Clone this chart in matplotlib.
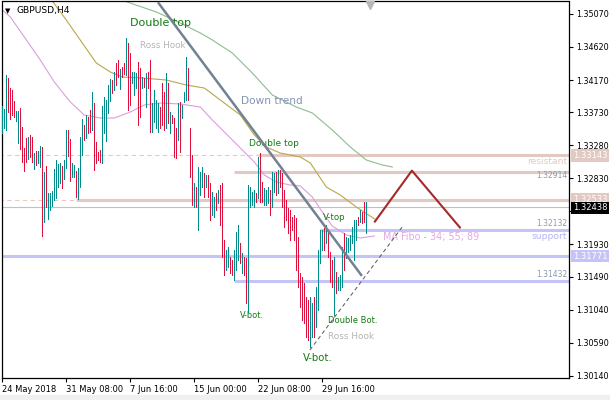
import matplotlib
matplotlib.use("Agg")
import matplotlib.pyplot as plt
from matplotlib.patches import Rectangle
from matplotlib.transforms import blended_transform_factory

# GBPUSD H4 bars: high / low per bar, U = up bar, D = down bar
highs = [
    1.33816, 1.33775, 1.34239, 1.34198, 1.34061, 1.34034, 1.33884, 1.33748, 1.33748, 1.33789,
    1.33530, 1.33244, 1.33380, 1.33394, 1.33421, 1.33394, 1.33175, 1.33203, 1.33203, 1.33271,
    1.33257, 1.32917, 1.32998, 1.32630, 1.32630, 1.32658, 1.32957, 1.33080, 1.33026, 1.33039,
    1.32998, 1.33080, 1.33489, 1.33489, 1.33366, 1.33039, 1.33012, 1.32930, 1.32971, 1.33394,
    1.33639, 1.33557, 1.33693, 1.33666, 1.33761, 1.34007, 1.33857, 1.33325, 1.33189, 1.33216,
    1.33816, 1.33939, 1.33898, 1.34102, 1.34184, 1.34170, 1.34279, 1.34402, 1.34443, 1.34320,
    1.34348, 1.34402, 1.34743, 1.34675, 1.34538, 1.34279, 1.34279, 1.34266, 1.34416, 1.34334,
    1.34211, 1.34198, 1.34266, 1.34279, 1.34443, 1.33857, 1.34034, 1.33898, 1.33857, 1.33802,
    1.34130, 1.34007, 1.34266, 1.34130, 1.33734, 1.33693, 1.33652, 1.33516, 1.33857, 1.33871,
    1.33830, 1.34007, 1.34484, 1.34334, 1.33516, 1.33148, 1.32767, 1.32712, 1.32985, 1.32917,
    1.32985, 1.32903, 1.32876, 1.32876, 1.32767, 1.32644, 1.32576, 1.32630, 1.32671, 1.32739,
    1.32767, 1.31990, 1.31853, 1.31894, 1.31758, 1.31717, 1.31853, 1.32099, 1.32194, 1.31949,
    1.31812, 1.31758, 1.31744, 1.32739, 1.32712, 1.32644, 1.32671, 1.32630, 1.33121, 1.33175,
    1.32780, 1.32698, 1.32671, 1.32712, 1.32671, 1.32917, 1.32903, 1.32917, 1.32944, 1.32944,
    1.32903, 1.32671, 1.32535, 1.32426, 1.32399, 1.32303, 1.32330, 1.32290, 1.32031, 1.31540,
    1.31485, 1.31404, 1.31213, 1.31172, 1.31213, 1.31131, 1.31213, 1.31349, 1.31853, 1.32126,
    1.32126, 1.32153, 1.32194, 1.32126, 1.31826, 1.31717, 1.31758, 1.31554, 1.31485, 1.31513,
    1.31894, 1.32085, 1.32031, 1.32017, 1.32058, 1.32167, 1.32262, 1.32262, 1.32303, 1.32399,
    1.32371, 1.32508, 1.32508,
]
lows = [
    1.33448, 1.33516, 1.33489, 1.33734, 1.33639, 1.33693, 1.33666, 1.33612, 1.33312, 1.33230,
    1.33053, 1.32930, 1.33053, 1.33094, 1.33121, 1.33053, 1.32957, 1.33012, 1.33039, 1.32985,
    1.32044, 1.32235, 1.32439, 1.32276, 1.32399, 1.32453, 1.32535, 1.32562, 1.32712, 1.32767,
    1.32698, 1.32821, 1.32971, 1.33135, 1.32794, 1.32848, 1.32848, 1.32576, 1.32548, 1.32712,
    1.33148, 1.33353, 1.33380, 1.33448, 1.33462, 1.33489, 1.32944, 1.33039, 1.33080, 1.33053,
    1.33039, 1.33448, 1.33339, 1.33721, 1.33884, 1.33993, 1.34034, 1.34102, 1.34211, 1.34048,
    1.34211, 1.34252, 1.34239, 1.33761, 1.33830, 1.34130, 1.33966, 1.34061, 1.33557, 1.33666,
    1.34061, 1.34075, 1.33802, 1.34061, 1.33462, 1.33462, 1.33598, 1.33516, 1.33462, 1.33516,
    1.33557, 1.33489, 1.33516, 1.33584, 1.33448, 1.33584, 1.33121, 1.33107, 1.33353, 1.33189,
    1.33652, 1.33871, 1.33898, 1.33898, 1.32848, 1.32467, 1.32439, 1.32439, 1.32126, 1.32603,
    1.32712, 1.32576, 1.32712, 1.32576, 1.32262, 1.32330, 1.32303, 1.32399, 1.32494, 1.32194,
    1.31758, 1.31513, 1.31581, 1.31622, 1.31540, 1.31513, 1.31444, 1.31581, 1.31717, 1.31676,
    1.31540, 1.31513, 1.31131, 1.31009, 1.32439, 1.32467, 1.32439, 1.32508, 1.32562, 1.32508,
    1.32508, 1.32467, 1.32467, 1.32494, 1.32330, 1.32439, 1.32644, 1.32603, 1.32630, 1.32712,
    1.32439, 1.32167, 1.32262, 1.32085, 1.31990, 1.32126, 1.31990, 1.31581, 1.31349, 1.31077,
    1.30899, 1.30858, 1.30667, 1.30626, 1.30531, 1.30667, 1.30667, 1.30804, 1.31036, 1.31676,
    1.31853, 1.31853, 1.31949, 1.31758, 1.31417, 1.31349, 1.30967, 1.31267, 1.31308, 1.31308,
    1.31349, 1.31581, 1.31744, 1.31826, 1.31853, 1.31949, 1.31717, 1.31990, 1.32194, 1.32235,
    1.32221, 1.32235, 1.32085,
]
dirs = ("UUUDDDDUUD" "DDDUDDUDUU" "DUDUUUUUUU" "DUUDDUUDUU" "UDUDDUDDDD"
        "UUUUUDUDDU" "DDUDDUUUDD" "UDUDDUUUUD" "DDUDUDDDUD" "UUUDDDUDUU"
        "UDUDDUUDUD" "DDUUDDUUUD" "UDDUUUUDUD" "DUUUDUUDUD" "DDDDDDDDDD"
        "DDDDUUDUUU" "UDUDDDUDUU" "UDUUUUUUDU" "DDU")

# moving averages (MA Fibo 34 / 55 / 89), sampled along the drawn curves
ma34_x = [0, 4, 11, 19, 26, 34, 41, 49, 56, 64, 71, 79, 89, 99, 105, 111, 119, 126,
          131, 137, 144, 149, 155, 160, 165, 172, 179, 186]
ma34_y = [1.35125, 1.35029, 1.34757, 1.34443, 1.34143, 1.33871, 1.33693, 1.33652, 1.33652,
          1.33734, 1.33830, 1.33857, 1.33843, 1.33802, 1.33625, 1.33462, 1.33243, 1.33053,
          1.32876, 1.32780, 1.32739, 1.32726, 1.32576, 1.32371, 1.32180, 1.32058, 1.32017,
          1.32044]
ma55_x = [25, 32, 40, 47, 54, 60, 70, 82, 92, 101, 109, 119, 126, 132, 139, 149, 154,
          162, 169, 177, 187]
ma55_y = [1.35247, 1.34988, 1.34675, 1.34402, 1.34279, 1.34211, 1.34198, 1.34170, 1.34102,
          1.34061, 1.33898, 1.33693, 1.33421, 1.33257, 1.33175, 1.33121, 1.33039, 1.32712,
          1.32603, 1.32439, 1.32262]
ma89_x = [61, 77, 89, 99, 105, 115, 125, 135, 147, 155, 165, 174, 182, 190, 195]
ma89_y = [1.35247, 1.35097, 1.34947, 1.34811, 1.34716, 1.34538, 1.34266, 1.33966, 1.33802,
          1.33721, 1.33489, 1.33257, 1.33080, 1.33012, 1.32985]

# drawn objects
downtrend_x = [77.8, 179.8]
downtrend_y = [1.3523, 1.3150]
uptrend_x = [153.8, 200.3]
uptrend_y = [1.3049, 1.3218]
zigzag_x = [186.3, 204.8, 228.8]
zigzag_y = [1.32241, 1.32935, 1.32160]

level_res = 1.33143
level_mid = 1.32914
level_res2 = 1.32533
last_price = 1.32438
level_sup = 1.32132
level_sup2 = 1.31771
level_low = 1.31432

y_ticks = [1.35070, 1.34620, 1.34170, 1.33730, 1.33280, 1.32830, 1.32380,
           1.31930, 1.31490, 1.31040, 1.30590, 1.30140]
x_ticks = [0, 32, 64, 96, 128, 160]
x_labels = ["24 May 2018", "31 May 08:00", "7 Jun 16:00", "15 Jun 00:00",
            "22 Jun 08:00", "29 Jun 16:00"]

UP = "#008b8b"
DOWN = "#e0103c"
ROSE = "#e2c9c2"
LAV = "#c4c4f8"

fig = plt.figure(figsize=(6.1, 4.0), dpi=100)
fig.patches.append(Rectangle((0, 0), 1, 5 / 400, transform=fig.transFigure,
                             color="#f0f0f0", zorder=0))
ax = fig.add_axes([2 / 610, 22 / 400, 567 / 610, 376.5 / 400])
ax.set_xlim(-0.15, 283.35)
ax.set_ylim(1.30109, 1.35240)

# levels
ax.hlines(level_res, -5, 128, colors="#ebc8c0", lw=0.8, linestyles=(0, (4, 3)), zorder=1)
ax.hlines(level_res2, -5, 37, colors="#ebc8c0", lw=0.8, linestyles=(0, (4, 3)), zorder=1)
ax.hlines(level_res, 128, 300, colors=ROSE, lw=2.2, zorder=1)
ax.hlines(level_mid, 116, 300, colors=ROSE, lw=2.2, zorder=1)
ax.hlines(level_res2, 37, 300, colors=ROSE, lw=2.2, zorder=1)
ax.hlines(last_price, -5, 300, colors="#c0c0c0", lw=0.8, zorder=1)
ax.hlines(level_sup, 159, 300, colors=LAV, lw=2.2, zorder=1)
ax.hlines(level_sup2, -5, 300, colors=LAV, lw=2.2, zorder=1)
ax.hlines(level_low, 116, 300, colors=LAV, lw=2.2, zorder=1)

# moving averages
ax.plot(ma34_x, ma34_y, color="#dd9ddd", lw=0.8, zorder=2)
ax.plot(ma55_x, ma55_y, color="#b8a84a", lw=0.8, zorder=2)
ax.plot(ma89_x, ma89_y, color="#8fbc8f", lw=0.8, zorder=2)

# bars
xs = list(range(len(highs)))
cols = [UP if d == "U" else DOWN for d in dirs]
ax.vlines(xs, lows, highs, colors=cols, lw=0.7, zorder=3, antialiased=False)

# trend lines
ax.plot(downtrend_x, downtrend_y, color="#738293", lw=1.8, zorder=4, solid_capstyle="butt")
ax.plot(uptrend_x, uptrend_y, color="#555555", lw=0.7, ls=(0, (4, 3)), zorder=4)
ax.plot(zigzag_x, zigzag_y, color="#a52a2a", lw=1.5, zorder=4)

# annotations
GREEN = "#137a13"
ax.text(63.8, 1.34947, "Double top", color=GREEN, fontsize=8, va="center")
ax.text(68.8, 1.34647, "Ross Hook", color="#b4b4b4", fontsize=6.3, va="center")
ax.text(119.3, 1.33884, "Down trend", color="#8494b4", fontsize=7.6, va="center")
ax.text(123.3, 1.33298, "Double top", color=GREEN, fontsize=6.5, va="center")
ax.text(160.3, 1.32303, "V-top", color=GREEN, fontsize=6.2, va="center")
ax.text(190.3, 1.32031, "MA Fibo - 34; 55; 89", color="#e4a8e4", fontsize=6.9, va="center")
ax.text(118.8, 1.30967, "V-bot.", color=GREEN, fontsize=5.9, va="center")
ax.text(162.8, 1.30886, "Double Bot.", color=GREEN, fontsize=6.0, va="center")
ax.text(162.8, 1.30681, "Ross Hook", color="#b4b4b4", fontsize=6.4, va="center")
ax.text(150.3, 1.30381, "V-bot.", color=GREEN, fontsize=7.3, va="center")

trans = blended_transform_factory(ax.transAxes, ax.transData)
ax.text(0.997, 1.33053, "resistant", color=ROSE, fontsize=6.6, ha="right", va="center",
        transform=trans)
ax.text(0.997, 1.32044, "support", color="#b4b4f0", fontsize=6.6, ha="right", va="center",
        transform=trans)
for p, lbl in [(1.32862, "1.32914"), (1.32221, "1.32132"), (1.31513, "1.31432")]:
    ax.text(0.997, p, lbl, color="#8c9cae", fontsize=5.5, ha="right", va="center",
            transform=trans)

# price boxes on the right scale (the last-price box sits over the 1.32380 label)
for p, fc, dy in [(level_res, ROSE, 0), (level_res2, ROSE, 0.0001),
                  (last_price, "black", -0.0001), (level_sup2, LAV, 0)]:
    ax.text(1.007, p + dy, f"{p:.5f}", color="white", fontsize=6, ha="left", va="center",
            transform=trans, clip_on=False, zorder=6,
            bbox=dict(boxstyle="square,pad=0.2", fc=fc, ec="none"))

# top-left title and shift marker
ax.text(0.006, 0.975, "\u25bc", transform=ax.transAxes, fontsize=5, va="center")
ax.text(0.026, 0.975, "GBPUSD,H4", transform=ax.transAxes, fontsize=6.6, va="center")
ax.plot([len(highs) + 0.8], [0.992], transform=blended_transform_factory(ax.transData, ax.transAxes),
        marker="v", ms=6, color="#b8b8b8", clip_on=False, zorder=6)

# axes
ax.yaxis.tick_right()
ax.set_yticks(y_ticks)
ax.set_yticklabels(["" if abs(t - 1.32380) < 1e-6 else f"{t:.5f}" for t in y_ticks])
ax.set_xticks(x_ticks)
ax.set_xticklabels(x_labels, ha="left")
ax.tick_params(axis="both", direction="out", length=3, width=0.8, labelsize=6, pad=2)
ax.tick_params(axis="y", labelsize=5.8)
for s in ax.spines.values():
    s.set_linewidth(0.9)
    s.set_color("black")

fig.savefig("out.png", dpi=100)
